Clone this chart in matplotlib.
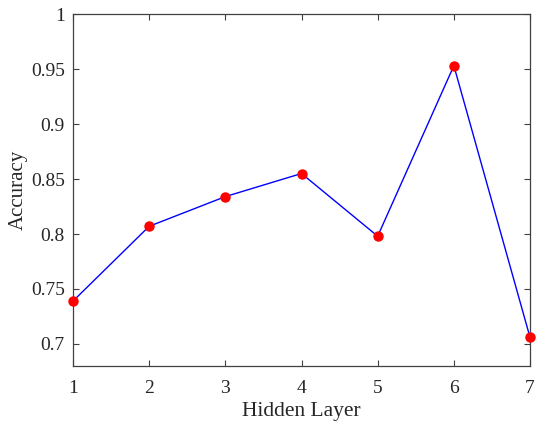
import matplotlib
matplotlib.use("Agg")
import matplotlib.pyplot as plt

# hidden layer count vs accuracy
hidden_layers = [1, 2, 3, 4, 5, 6, 7]
accuracy = [0.739, 0.807, 0.834, 0.855, 0.798, 0.953, 0.706]
y_ticks = [0.7, 0.75, 0.8, 0.85, 0.9, 0.95, 1.0]
y_tick_labels = ["0.7", "0.75", "0.8", "0.85", "0.9", "0.95", "1"]

plt.rcParams['font.family'] = ['Liberation Serif', 'DejaVu Serif']

fig = plt.figure(figsize=(5.5, 4.34), dpi=100)
ax = fig.add_axes([0.1327, 0.1567, 0.831, 0.811])

ax.plot(hidden_layers, accuracy, color='blue', linewidth=1.0, zorder=2)
ax.plot(hidden_layers, accuracy, 'o', color='red', markersize=6.5, zorder=3, clip_on=False)

ax.set_xlim(1, 7)
ax.set_ylim(0.68, 1.0)
ax.set_xticks(hidden_layers)
ax.set_yticks(y_ticks)
ax.set_yticklabels(y_tick_labels)

for sp in ax.spines.values():
    sp.set_color('#404040')
    sp.set_linewidth(0.9)
ax.tick_params(direction='in', top=True, right=True, length=4, width=0.8,
               colors='#404040', labelcolor='#262626', labelsize=14)
ax.tick_params(axis='x', pad=10)
ax.tick_params(axis='y', pad=6)

ax.set_xlabel("Hidden Layer", fontsize=15.5, color='#262626', labelpad=4)
ax.set_ylabel("Accuracy", fontsize=15, color='#262626', labelpad=2)

fig.savefig("out.png", dpi=100)
